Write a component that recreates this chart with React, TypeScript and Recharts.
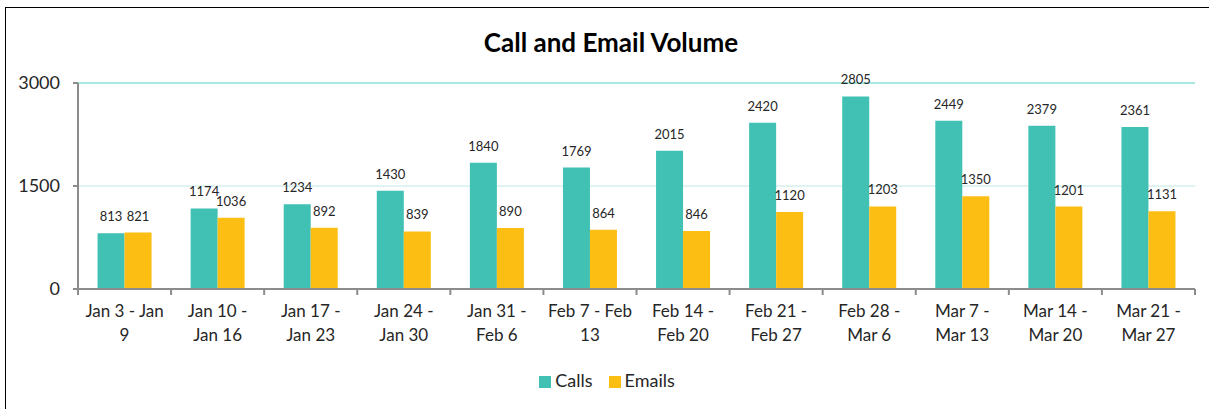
import React from "react";
import {
  Bar,
  BarChart,
  CartesianGrid,
  LabelList,
  Legend,
  ReferenceLine,
  XAxis,
  YAxis,
} from "recharts";

const weeks = [
  "Jan 3 - Jan\n9",
  "Jan 10 -\nJan 16",
  "Jan 17 -\nJan 23",
  "Jan 24 -\nJan 30",
  "Jan 31 -\nFeb 6",
  "Feb 7 - Feb\n13",
  "Feb 14 -\nFeb 20",
  "Feb 21 -\nFeb 27",
  "Feb 28 -\nMar 6",
  "Mar 7 -\nMar 13",
  "Mar 14 -\nMar 20",
  "Mar 21 -\nMar 27",
];
const calls = [813, 1174, 1234, 1430, 1840, 1769, 2015, 2420, 2805, 2449, 2379, 2361];
const emails = [821, 1036, 892, 839, 890, 864, 846, 1120, 1203, 1350, 1201, 1131];
const yTicks = [0, 1500, 3000];

const chartData = weeks.map((week, i) => ({ week, calls: calls[i], emails: emails[i] }));

const FONT = "Lato, 'Open Sans', sans-serif";
const TEAL = "#41C0B4";
const YELLOW = "#FDBE14";
const AXIS = "#8C8C8C";

const PLOT_LEFT = 78;
const PLOT_RIGHT = 1195;
const BAND = (PLOT_RIGHT - PLOT_LEFT) / weeks.length;

function WeekTick(props: any) {
  const { x, y, payload, index } = props;
  const lines = String(payload.value).split("\n");
  const isLast = index === weeks.length - 1;
  return (
    <g>
      <line x1={x - BAND / 2} x2={x - BAND / 2} y1={y - 8} y2={y - 2} stroke={AXIS} strokeWidth={2} />
      {isLast && (
        <line x1={x + BAND / 2} x2={x + BAND / 2} y1={y - 8} y2={y - 2} stroke={AXIS} strokeWidth={2} />
      )}
      <text x={x} y={y + 20} textAnchor="middle" fill="#262626" fontSize={17} fontFamily={FONT}>
        {lines.map((line, i) => (
          <tspan key={i} x={x} dy={i === 0 ? 0 : 24}>
            {line}
          </tspan>
        ))}
      </text>
    </g>
  );
}

export default function App() {
  return (
    <div style={{ position: "absolute", left: 0, top: 0, width: 1209, height: 409, background: "#fff", overflow: "hidden" }}>
      <div
        style={{
          position: "absolute",
          left: 5,
          top: 7,
          width: 1220,
          height: 420,
          border: "1.5px solid #000",
          boxSizing: "border-box",
        }}
      />
      <div
        style={{
          position: "absolute",
          left: 0,
          width: 1222,
          top: 26,
          textAlign: "center",
          fontFamily: FONT,
          fontWeight: 700,
          fontSize: 26,
          lineHeight: "32px",
          color: "#000",
        }}
      >
        Call and Email Volume
      </div>
      <div style={{ position: "absolute", left: 0, top: 0 }}>
        <BarChart
          width={1209}
          height={409}
          data={chartData}
          margin={{ top: 83, right: 1209 - PLOT_RIGHT, bottom: 60, left: PLOT_LEFT - 60 }}
          barCategoryGap="21%"
          barGap={0}
        >
          <CartesianGrid vertical={false} stroke="#DFF4F2" strokeWidth={2} />
          <ReferenceLine y={3000} stroke="#A8E8E0" strokeWidth={2} />
          <XAxis
            dataKey="week"
            interval={0}
            tickLine={false}
            axisLine={{ stroke: AXIS, strokeWidth: 2 }}
            tick={<WeekTick />}
            height={60}
          />
          <YAxis
            width={60}
            domain={[0, 3000]}
            ticks={yTicks}
            interval={0}
            tickSize={5}
            tickMargin={13}
            tickLine={{ stroke: AXIS, strokeWidth: 2 }}
            axisLine={{ stroke: AXIS, strokeWidth: 2 }}
            tick={{ fill: "#262626", fontSize: 18, fontFamily: FONT }}
          />
          <Legend
            layout="horizontal"
            verticalAlign="middle"
            align="center"
            iconType="square"
            iconSize={12}
            wrapperStyle={{
              position: "absolute",
              top: 369,
              left: 0,
              width: 1230,
              fontFamily: FONT,
              fontSize: 18,
              color: "#262626",
            }}
            formatter={(value: string) => <span style={{ color: "#262626", marginRight: 6 }}>{value}</span>}
          />
          <Bar dataKey="calls" name="Calls" fill={TEAL} isAnimationActive={false}>
            <LabelList dataKey="calls" position="top" offset={12} fill="#262626" fontSize={13} fontFamily={FONT} />
          </Bar>
          <Bar dataKey="emails" name="Emails" fill={YELLOW} isAnimationActive={false}>
            <LabelList dataKey="emails" position="top" offset={12} fill="#262626" fontSize={13} fontFamily={FONT} />
          </Bar>
        </BarChart>
      </div>
    </div>
  );
}
